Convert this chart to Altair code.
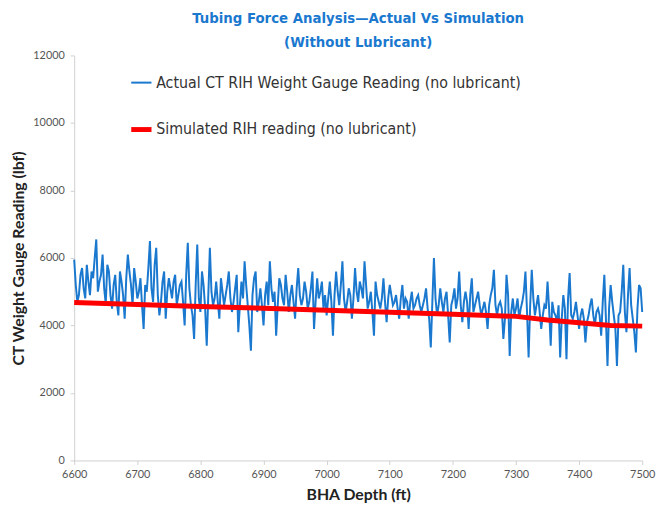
import altair as alt
import pandas as pd

# Actual gauge reading, read at every 5 ft (6600 ... 7500)
depth = list(range(6600, 7505, 5))
actual = [
    5950, 4700, 5500, 5100, 5800, 4900, 5400, 6550, 5300, 6100,
    4650, 5600, 4500, 5500, 4300, 5300, 4200, 6100, 5200, 5700,
    4800, 5400, 3900, 5000, 6500, 4700, 6300, 4300, 5300, 4200,
    5400, 4800, 5500, 4900, 5300, 4000, 6450, 4600, 3600, 6400,
    4400, 5200, 3400, 6300, 4600, 5300, 4200, 5000, 4900, 5600,
    4400, 5100, 3800, 5300, 5900, 4600, 3250, 5400, 4400, 5100,
    4000, 5300, 5900, 4700, 3700, 5400, 4800, 5500, 4400, 5200,
    4200, 5700, 4600, 5300, 4500, 5100, 3900, 5400, 5000, 4500,
    4300, 5300, 3700, 5600, 4600, 5900, 4400, 5100, 4200, 5700,
    4700, 5100, 5900, 4500, 5000, 3700, 4900, 4500, 5400, 4100,
    5200, 4600, 4900, 4200, 5200, 4800, 4200, 5000, 4600, 4900,
    4400, 4800, 4500, 3350, 6000, 4300, 5100, 4400, 5000, 3500,
    4800, 4500, 5600, 4100, 5000, 3900, 5400, 4600, 5000, 4300,
    4700, 3900, 4900, 5650, 4300, 4700, 3600, 5500, 3100, 4800,
    4500, 4200, 4700, 5600, 3050, 5650, 4300, 4900, 3900, 4600,
    5300, 3400, 4400, 4100, 3050, 4900, 3000, 5550, 4200, 4700,
    3900, 4500, 3500, 4300, 4800, 4000, 4500, 3700, 5500, 2800,
    5200, 4300, 2800, 4400, 5800, 3800, 5700, 4200, 3200, 5200,
    4400,
]
# Actual gauge reading between those (6602.5 ... 7497.5)
depth_mid = [d + 2.5 for d in range(6600, 7500, 5)]
actual_mid = [
    5200, 4900, 5700, 4800, 5300, 5600, 6000, 5000, 5500, 5100,
    5800, 4900, 5200, 4700, 5600, 4900, 5400, 5600, 4600, 5300,
    5000, 4600, 5200, 5700, 5100, 5800, 4900, 4700, 5600, 5000,
    5100, 5300, 4600, 5200, 4700, 5500, 5100, 4300, 5200, 4800,
    5600, 4500, 4900, 5000, 4800, 4700, 5400, 4600, 5200, 4800,
    4700, 5500, 4600, 4800, 5200, 4000, 4900, 5600, 4700, 4600,
    4900, 4600, 5100, 5000, 4600, 5200, 4600, 5000, 4900, 4700,
    5100, 4900, 4800, 5000, 4700, 5600, 4700, 4800, 5300, 4900,
    4800, 4700, 4900, 5000, 5200, 4800, 4700, 4900, 4800, 5000,
    5300, 4800, 5200, 4700, 4400, 5300, 4700, 4800, 4700, 4800,
    4900, 4700, 4500, 4800, 4500, 4700, 4700, 4500, 4800, 4600,
    4600, 5100, 4200, 4700, 4800, 4600, 4700, 4800, 4300, 4600,
    5100, 4800, 4600, 4700, 4700, 4900, 4400, 4800, 4600, 4500,
    4400, 4600, 5100, 4600, 4600, 4500, 4200, 4900, 4400, 4300,
    4800, 4500, 5000, 4400, 4600, 4800, 4600, 4400, 4300, 4500,
    4500, 4700, 4300, 4600, 4200, 4500, 4800, 4300, 4400, 4300,
    4300, 4200, 4100, 4600, 4300, 4400, 4300, 4700, 4200, 4500,
    4700, 3900, 4300, 5000, 4400, 4900, 4600, 3800, 4500, 5100,
]
sim_depth = [6600, 6700, 6800, 6900, 7000, 7100, 7200, 7300, 7350, 7400, 7450, 7500]
sim_value = [4680, 4620, 4560, 4510, 4450, 4390, 4330, 4270, 4160, 4080, 4000, 3980]

s1 = "Actual CT RIH Weight Gauge Reading (no lubricant)"
s2 = "Simulated RIH reading (no lubricant)"

actual_df = pd.concat([
    pd.DataFrame({"depth": depth, "value": actual}),
    pd.DataFrame({"depth": depth_mid, "value": actual_mid}),
]).sort_values("depth")
actual_df["series"] = s1
actual_df["order"] = 0
sim_df = pd.DataFrame({"depth": sim_depth, "value": sim_value, "series": s2, "order": 1})
df = pd.concat([actual_df, sim_df])

narrow = "'DejaVu Sans Condensed', 'Liberation Sans', sans-serif"

color = alt.Color("series:N", scale=alt.Scale(domain=[s1, s2], range=["#1a78cf", "#ff0000"]),
                  legend=alt.Legend(title=None, orient="none", legendX=55, legendY=16,
                                    symbolType="stroke", symbolSize=420, labelFontSize=16,
                                    labelFont=narrow, labelColor="#333333", labelLimit=0,
                                    rowPadding=26, labelOffset=2, symbolOffset=0))
sw = alt.StrokeWidth("series:N", scale=alt.Scale(domain=[s1, s2], range=[2, 5]))

chart = alt.Chart(df).mark_line().encode(
    x=alt.X("depth:Q", scale=alt.Scale(domain=[6600, 7500], nice=False),
            axis=alt.Axis(title="BHA Depth (ft)", values=list(range(6600, 7501, 100)), format="d",
                          labelFlush=False)),
    y=alt.Y("value:Q", scale=alt.Scale(domain=[0, 12000], nice=False),
            axis=alt.Axis(title="CT Weight Gauge Reading (lbf)", values=list(range(0, 12001, 2000)), format="d")),
    color=color,
    strokeWidth=sw,
    order="order:Q",
    detail="series:N",
).properties(
    width=575, height=410,
    title=alt.TitleParams(["Tubing Force Analysis\u2014Actual Vs Simulation", "(Without Lubricant)"],
                          font=narrow, fontSize=15, fontWeight="bold",
                          color="#1a78cf", anchor="middle", lineHeight=24, offset=0),
    autosize=alt.AutoSizeParams(type="none"),
    padding={"left": 67, "top": 45, "right": 17, "bottom": 40},
).configure_axis(
    grid=False, domainColor="#d0d0d0", tickColor="#d0d0d0", tickSize=4,
    labelFont="Lato", labelFontSize=11, labelColor="#555555",
    titleFont="Lato", titleFontSize=16, titleFontWeight="bold", titleColor="#222222",
).configure_axisY(
    labelPadding=6, titlePadding=6,
).configure_axisX(
    labelPadding=4, titlePadding=8,
).configure_view(stroke=None)

chart.save("out.html", embed_options={"renderer": "svg", "actions": False})
